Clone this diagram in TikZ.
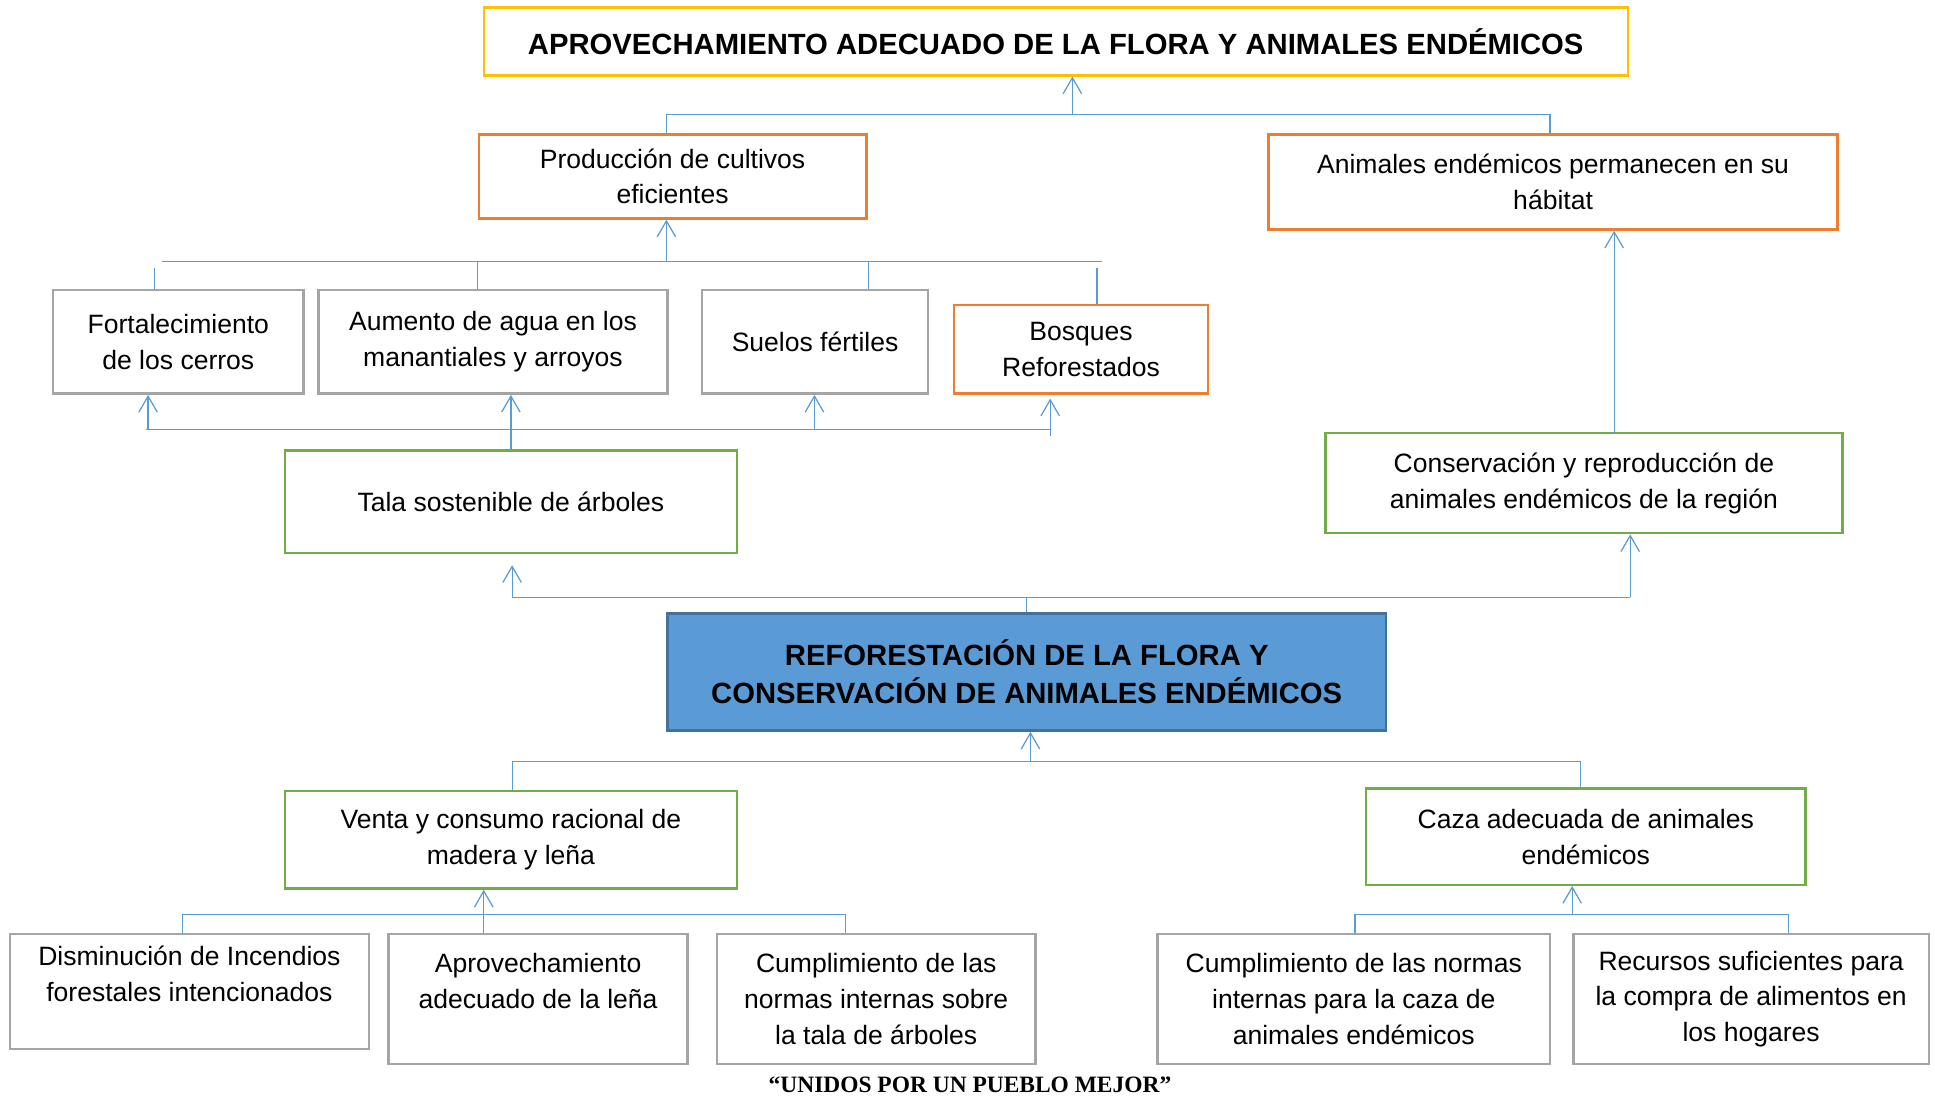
\documentclass[tikz,border=0pt]{standalone}
\usepackage{fontspec}
\setmainfont{Liberation Sans}
\newfontfamily\mottofont{Liberation Serif}
\usepackage{tikz}
\usepackage{xcolor}
\usetikzlibrary{arrows.meta,positioning,calc}
\definecolor{boxyellow}{RGB}{255,192,0}
\definecolor{boxorange}{RGB}{237,125,49}
\definecolor{boxgreen}{RGB}{112,173,71}
\definecolor{boxgray}{RGB}{165,165,165}
\definecolor{boxblue}{RGB}{91,155,213}
\definecolor{boxblueline}{RGB}{65,113,156}
\definecolor{linkblue}{RGB}{91,155,213}

\begin{document}
\begin{tikzpicture}[x=1pt,y=-1pt,
  box/.style={draw,line width=2pt,align=center,inner sep=2pt,font=\fontsize{21.5}{29}\selectfont},
  yellowbox/.style={box,draw=boxyellow,font=\fontsize{23.7}{28}\selectfont\bfseries},
  orangebox/.style={box,draw=boxorange},
  greenbox/.style={box,draw=boxgreen},
  graybox/.style={box,draw=boxgray},
  bluebox/.style={box,draw=boxblueline,fill=boxblue,font=\fontsize{23.7}{31}\selectfont\bfseries},
  link/.style={draw=linkblue,line width=1pt},
  arr/.style={link,-{Straight Barb[length=13pt,width=15pt]}}]
\useasboundingbox (0,0) rectangle (1568,890);

% boxes
\node[yellowbox,minimum width=927pt,minimum height=55pt] (title) at (855.5,33.5) {APROVECHAMIENTO ADECUADO DE LA FLORA Y ANIMALES ENDÉMICOS};
\node[orangebox,minimum width=314pt,minimum height=68pt] (prod) at (545,143) {Producción de cultivos\\eficientes};
\node[orangebox,minimum width=461pt,minimum height=77pt] (anim) at (1258.5,147.5) {Animales endémicos permanecen en su\\hábitat};
\node[graybox,minimum width=203pt,minimum height=84pt] (forta) at (144.5,277) {Fortalecimiento\\de los cerros};
\node[graybox,minimum width=283pt,minimum height=84pt] (aumento) at (399.5,277) {Aumento de agua en los\\manantiales y arroyos};
\node[graybox,minimum width=183pt,minimum height=84pt] (suelos) at (660.5,277) {Suelos fértiles};
\node[orangebox,minimum width=206pt,minimum height=72pt] (bosques) at (876,283) {Bosques\\Reforestados};
\node[greenbox,minimum width=366pt,minimum height=83pt] (tala) at (414,406.5) {Tala sostenible de árboles};
\node[greenbox,minimum width=419pt,minimum height=81pt] (cons) at (1283.5,391.5) {Conservación y reproducción de\\animales endémicos de la región};
\node[bluebox,minimum width=582pt,minimum height=95pt] (central) at (832,544.5) {REFORESTACIÓN DE LA FLORA Y\\CONSERVACIÓN DE ANIMALES ENDÉMICOS};
\node[greenbox,minimum width=366pt,minimum height=79pt] (venta) at (414,680.5) {Venta y consumo racional de\\madera y leña};
\node[greenbox,minimum width=356pt,minimum height=78pt] (caza) at (1285,678) {Caza adecuada de animales\\endémicos};
\node[graybox,minimum width=291pt,minimum height=93pt] (dismi) at (153.5,803.5) {Disminución de Incendios\\forestales intencionados\\\mbox{}};
\node[graybox,minimum width=242pt,minimum height=105pt] (aprov) at (436,809.5) {Aprovechamiento\\adecuado de la leña\\\mbox{}};
\node[graybox,minimum width=258pt,minimum height=105pt] (cumplA) at (710,809.5) {Cumplimiento de las\\normas internas sobre\\la tala de árboles};
\node[graybox,minimum width=318pt,minimum height=105pt] (cumplB) at (1097,809.5) {Cumplimiento de las normas\\internas para la caza de\\animales endémicos};
\node[graybox,minimum width=288pt,minimum height=105pt] (recur) at (1419,809.5) {Recursos suficientes para\\la compra de alimentos en\\los hogares};
\node[font=\mottofont\bfseries\fontsize{19}{22}\selectfont] (motto) at (786,879) {“UNIDOS POR UN PUEBLO MEJOR”};

% bus points
\coordinate (a0) at (869,93);
\coordinate (a1) at (540,93);
\coordinate (a2) at (1256,93);
\coordinate (bL) at (131,212);
\coordinate (bR) at (893,212);
\coordinate (b0) at (540,212);
\coordinate (b1) at (125,217);
\coordinate (b2) at (387,212);
\coordinate (b3) at (704,212);
\coordinate (b4) at (889,217);
\coordinate (cL) at (118,348);
\coordinate (cR) at (851,348);
\coordinate (c1) at (120,348);
\coordinate (c3) at (660,348);
\coordinate (c4) at (851,353);
\coordinate (c4t) at (851,323);
\coordinate (k1) at (1308,351);
\coordinate (d0) at (832,484);
\coordinate (dL) at (415,484);
\coordinate (dLt) at (415,458);
\coordinate (dR) at (1321,484);
\coordinate (e0) at (835,617);
\coordinate (eL) at (415,617);
\coordinate (eR) at (1281,617);
\coordinate (f0) at (392,741);
\coordinate (f1) at (148,741);
\coordinate (f3) at (685,741);
\coordinate (g0) at (1274,741);
\coordinate (g1) at (1098,741);
\coordinate (g2) at (1449,741);

% connectors
\draw[link] (a1 |- prod.north) |- (a0) -| (a2 |- anim.north);
\draw[arr] (a0) -- (a0 |- title.south);
\draw[link] (bL) -- (bR);
\draw[arr] (b0) -- (b0 |- prod.south);
\foreach \c/\n in {b1/forta,b2/aumento,b3/suelos,b4/bosques}
  \draw[link] (\c) -- (\c |- \n.north);
\draw[link] (cL) -- (cR);
\draw[arr] (c1) -- (c1 |- forta.south);
\draw[arr] (c3) -- (c3 |- suelos.south);
\draw[arr] (c4) -- (c4t);
\draw[arr] (tala.north) -- (tala.north |- aumento.south);
\draw[arr] (k1) -- (k1 |- anim.south);
\draw[link] (d0 |- central.north) -- (d0);
\draw[arr] (dL) -- (dLt);
\draw[link] (dL) -- (dR);
\draw[arr] (dR) -- (dR |- cons.south);
\draw[link] (eL |- venta.north) -- (eL) -- (eR) -- (eR |- caza.north);
\draw[arr] (e0) -- (e0 |- central.south);
\draw[link] (f1 |- dismi.north) -- (f1) -- (f3) -- (f3 |- cumplA.north);
\draw[arr] (f0 |- aprov.north) -- (f0 |- venta.south);
\draw[link] (g1 |- cumplB.north) -- (g1) -- (g2) -- (g2 |- recur.north);
\draw[arr] (g0) -- (g0 |- caza.south);
\end{tikzpicture}
\end{document}
